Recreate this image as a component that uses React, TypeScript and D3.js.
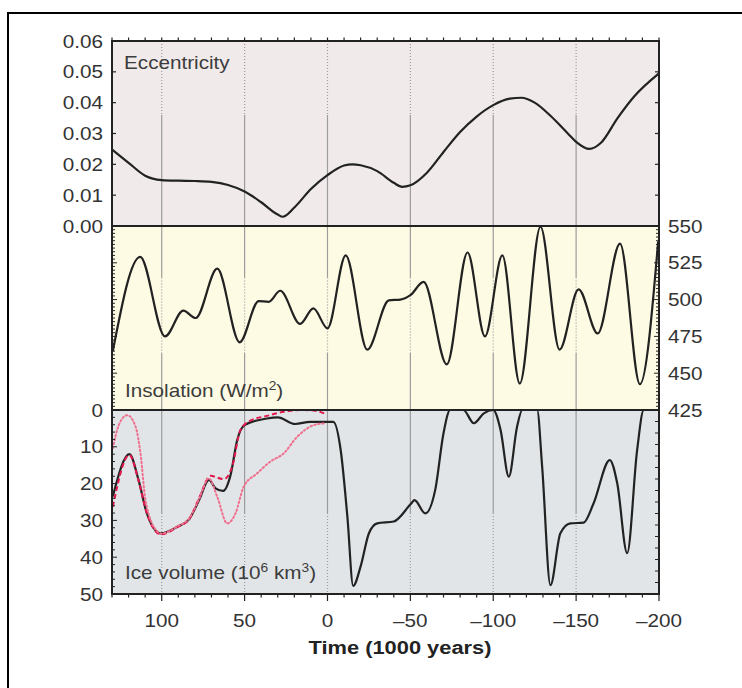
import React from "react";
import * as d3 from "d3";

// time in 1000 years (positive = past), value
const eccentricity: [number, number][] = [
  [130, 0.0248], [120, 0.0205], [110, 0.0163], [100, 0.0149], [90, 0.0147],
  [80, 0.0146], [70, 0.0143], [60, 0.0133], [50, 0.0112], [40, 0.0077],
  [30, 0.0037], [27, 0.003], [20, 0.006], [10, 0.012], [0, 0.0165],
  [-10, 0.0196], [-15, 0.02], [-20, 0.0197], [-30, 0.0178], [-40, 0.014],
  [-45, 0.0127], [-50, 0.0132], [-60, 0.0173], [-70, 0.024], [-80, 0.0305],
  [-90, 0.0355], [-100, 0.0392], [-110, 0.0413], [-117, 0.0416], [-125, 0.04],
  [-135, 0.0355], [-145, 0.03], [-150, 0.0273], [-158, 0.025], [-165, 0.027],
  [-175, 0.035], [-185, 0.042], [-200, 0.0495],
];

const insolation: [number, number][] = [
  [129.5, 465], [113, 529], [98, 475], [87, 492.5], [79.5, 487.5], [66.5, 521],
  [53, 471], [41.5, 499], [35.5, 498.5], [28.5, 506], [16.5, 483.5], [8.5, 494],
  [0, 480.5], [-11, 530], [-24, 466], [-37, 499.5], [-44, 500], [-50, 503],
  [-58, 512], [-72, 456], [-84.5, 532], [-95, 475], [-105.5, 530], [-116, 443],
  [-128.5, 549.5], [-140, 466], [-151.5, 507], [-163, 477], [-176.5, 538],
  [-188.5, 442.5], [-199.5, 539.5],
];

const iceModel: [number, number][] = [
  [129.5, 23.5], [119.5, 12], [114, 19], [109, 28], [100.5, 33.5], [90.5, 31.7],
  [83.5, 29.7], [77.5, 24.5], [71.5, 19], [67.5, 21.3], [63, 22], [58.5, 17.7],
  [54.5, 8.2], [50, 4.1], [36.5, 2.3], [30, 2], [19.5, 3.8], [10.5, 3.2],
  [-3.5, 3.2], [-8, 11], [-12, 29], [-15.5, 47.8], [-20, 42.5], [-25, 33.5],
  [-30, 30.8], [-40, 30.3], [-50.5, 25.4], [-52.5, 24.5], [-59, 28.1],
  [-65, 21.7], [-70, 6.3], [-74, 0], [-82, 0], [-88.3, 3.6], [-94.3, 0.9],
  [-100, 0], [-104.4, 5.4], [-109.4, 18.1], [-114.4, 4.5], [-117.5, 0],
  [-126.5, 0], [-129.5, 15.4], [-134.5, 47.6], [-140.5, 33.5], [-146.5, 30.8],
  [-154.5, 30.6], [-160.5, 25.4], [-170.3, 13.6], [-174.8, 19.9], [-180.8, 38.9],
  [-186.8, 10.9], [-190.8, 0], [-199.5, 0],
];

const iceDashed: [number, number][] = [
  [129.5, 26.3], [119.5, 12.2], [114, 19.2], [109, 28], [100.5, 33.8], [90.5, 31.8],
  [83.5, 29.7], [77.5, 24], [70.6, 17.9], [62.6, 18.8], [57.5, 15.4], [52.5, 5.4],
  [46.5, 2.9], [36.4, 1.6], [26.4, 0.5], [14.3, 0], [6.2, 0.3], [1.2, 1.1],
];

const iceDotted: [number, number][] = [
  [129.5, 10.4], [125.9, 4.1], [120.8, 1.4], [115.8, 4.5], [112.8, 11.8],
  [109.8, 24.5], [102.7, 33], [100.5, 33.6], [90.5, 31.6], [83.5, 29.5],
  [77.5, 24.2], [71.6, 18.6], [66.5, 23.6], [60.5, 30.8], [55.5, 28.1],
  [50.5, 20.8], [42.4, 17.2], [34.4, 14], [26.4, 11.8], [18.3, 7.3],
  [8.3, 4.1], [1.2, 3.6],
];

const timeTicks = [100, 50, 0, -50, -100, -150, -200];
const eccTicks = [0, 0.01, 0.02, 0.03, 0.04, 0.05, 0.06];
const insTicks = [425, 450, 475, 500, 525, 550];
const iceTicks = [0, 10, 20, 30, 40, 50];

const L = 112, R = 659;
const P1 = [41, 226], P2 = [226, 410], P3 = [410, 594];
const SX = 1.15;
const FONT = "'Liberation Sans', Arial, Helvetica, sans-serif";
const GRID = "#9c9c9c";

function T({ x, y, anchor = "start", size = 18, weight = "normal", fill = "#333", children }: any) {
  return (
    <text
      transform={`translate(${x},${y}) scale(${SX},1)`}
      textAnchor={anchor}
      fontSize={size}
      fontWeight={weight}
      fontFamily={FONT}
      fill={fill}
    >
      {children}
    </text>
  );
}

export default function App() {
  const x = d3.scaleLinear().domain([130, -200]).range([L, R]);
  const yE = d3.scaleLinear().domain([0, 0.06]).range([P1[1], P1[0]]);
  const yI = d3.scaleLinear().domain([425, 550]).range([P2[1], P2[0]]);
  const yV = d3.scaleLinear().domain([0, 50]).range([P3[0], P3[1]]);

  const lineOf = (y: d3.ScaleLinear<number, number>) =>
    d3
      .line<[number, number]>()
      .x((d) => x(d[0]))
      .y((d) => y(d[1]))
      .curve(d3.curveMonotoneX);

  const minor = d3.range(130, -201, -10);

  // vertical grid: [from, to, dotted] as fractions of each panel
  const gridSegs: [number[], number, number, boolean][] = [
    [P1, 0, 0.4, true], [P1, 0.4, 1, false],
    [P2, 0, 0.28, false], [P2, 0.28, 0.69, true], [P2, 0.69, 1, false],
    [P3, 0, 0.56, false], [P3, 0.56, 1, true],
  ];

  return (
    <div style={{ position: "absolute", left: 0, top: 0 }}>
      <svg width={742} height={688} style={{ display: "block", background: "#fff" }}>
        {/* outer frame */}
        <rect x={8} y={13} width={900} height={900} fill="none" stroke="#000" strokeWidth={2} />

        {/* panel backgrounds */}
        <rect x={L} y={P1[0]} width={R - L} height={P1[1] - P1[0]} fill="#f0eaeb" />
        <rect x={L} y={P2[0]} width={R - L} height={P2[1] - P2[0]} fill="#fefbe4" />
        <rect x={L} y={P3[0]} width={R - L} height={P3[1] - P3[0]} fill="#e1e5e8" />

        {/* vertical grid lines */}
        {timeTicks
          .filter((t) => t > -200)
          .map((t) =>
            gridSegs.map(([p, a, b, dotted], i) => (
              <line
                key={`${t}-${i}`}
                x1={x(t)}
                x2={x(t)}
                y1={p[0] + (p[1] - p[0]) * a}
                y2={p[0] + (p[1] - p[0]) * b}
                stroke={GRID}
                strokeWidth={1.2}
                strokeDasharray={dotted ? "1,2" : undefined}
              />
            ))
          )}

        {/* curves */}
        <path d={lineOf(yE)(eccentricity) || ""} fill="none" stroke="#222" strokeWidth={2.2} />
        <path d={lineOf(yI)(insolation) || ""} fill="none" stroke="#222" strokeWidth={2.2} />
        <path d={lineOf(yV)(iceModel) || ""} fill="none" stroke="#222" strokeWidth={2.2} />
        <path d={lineOf(yV)(iceDashed) || ""} fill="none" stroke="#e3174d" strokeWidth={2} strokeDasharray="5,3" />
        <path d={lineOf(yV)(iceDotted) || ""} fill="none" stroke="#f0708f" strokeWidth={2} strokeDasharray="1.5,2.5" strokeLinecap="round" />

        {/* panel frames */}
        <rect x={L} y={P1[0]} width={R - L} height={P3[1] - P1[0]} fill="none" stroke="#222" strokeWidth={2} />
        <line x1={L} x2={R} y1={P2[0]} y2={P2[0]} stroke="#222" strokeWidth={2} />
        <line x1={L} x2={R} y1={P3[0]} y2={P3[0]} stroke="#222" strokeWidth={2} />

        {/* top x ticks */}
        {minor.map((t) => (
          <line key={`tt${t}`} x1={x(t)} x2={x(t)} y1={P1[0]} y2={P1[0] - 3.5} stroke="#222" strokeWidth={1.2} />
        ))}
        {/* bottom x ticks */}
        {minor.map((t) => (
          <line key={`bt${t}`} x1={x(t)} x2={x(t)} y1={P3[1]} y2={P3[1] + (t % 50 === 0 ? 7 : 3.5)} stroke="#222" strokeWidth={1.2} />
        ))}

        {/* eccentricity ticks */}
        {eccTicks.map((v) => (
          <g key={`e${v}`}>
            <line x1={L} x2={L + 4} y1={yE(v)} y2={yE(v)} stroke="#222" strokeWidth={1.2} />
            <line x1={R} x2={R - 4} y1={yE(v)} y2={yE(v)} stroke="#222" strokeWidth={1.2} />
            <T x={103} y={yE(v) + 6.5} anchor="end">{v.toFixed(2)}</T>
          </g>
        ))}

        {/* insolation ticks */}
        {d3.range(425, 550.1, 2.5).map((v) => {
          const len = Math.abs(v % 25) < 0.01 ? 5 : 3;
          return (
            <g key={`i${v}`}>
              <line x1={L} x2={L + len} y1={yI(v)} y2={yI(v)} stroke="#222" strokeWidth={1} />
              <line x1={R} x2={R - len} y1={yI(v)} y2={yI(v)} stroke="#222" strokeWidth={1} />
            </g>
          );
        })}
        {insTicks.map((v) => (
          <T key={`il${v}`} x={668} y={yI(v) + 6.5}>{v}</T>
        ))}

        {/* ice ticks */}
        {d3.range(0, 50.1, 2).map((v) => (
          <line key={`v${v}`} x1={L} x2={L + (v % 10 === 0 ? 5 : 3)} y1={yV(v)} y2={yV(v)} stroke="#222" strokeWidth={1} />
        ))}
        {d3.range(0, 50.1, 3.125).map((v) => (
          <line key={`vr${v}`} x1={R} x2={R - 4} y1={yV(v)} y2={yV(v)} stroke="#222" strokeWidth={1} />
        ))}
        {iceTicks.map((v) => (
          <T key={`vl${v}`} x={103} y={yV(v) + 6.5} anchor="end">{v}</T>
        ))}

        {/* time labels */}
        {timeTicks.map((t) => (
          <T key={`tl${t}`} x={x(t)} y={627} anchor="middle">
            {t < 0 ? `\u2013${-t}` : t}
          </T>
        ))}

        {/* panel labels */}
        <T x={124} y={69} fill="#3c3c3c">Eccentricity</T>
        <T x={125} y={397} fill="#3c3c3c">
          Insolation (W/m<tspan fontSize={12} dy={-7}>2</tspan><tspan dy={7}>)</tspan>
        </T>
        <T x={125} y={579} fill="#3c3c3c">
          Ice volume (10<tspan fontSize={12} dy={-7}>6</tspan><tspan dy={7}> km</tspan>
          <tspan fontSize={12} dy={-7}>3</tspan><tspan dy={7}>)</tspan>
        </T>

        {/* axis title */}
        <T x={400} y={654} anchor="middle" size={19} weight="bold" fill="#222">
          Time (1000 years)
        </T>
      </svg>
    </div>
  );
}
